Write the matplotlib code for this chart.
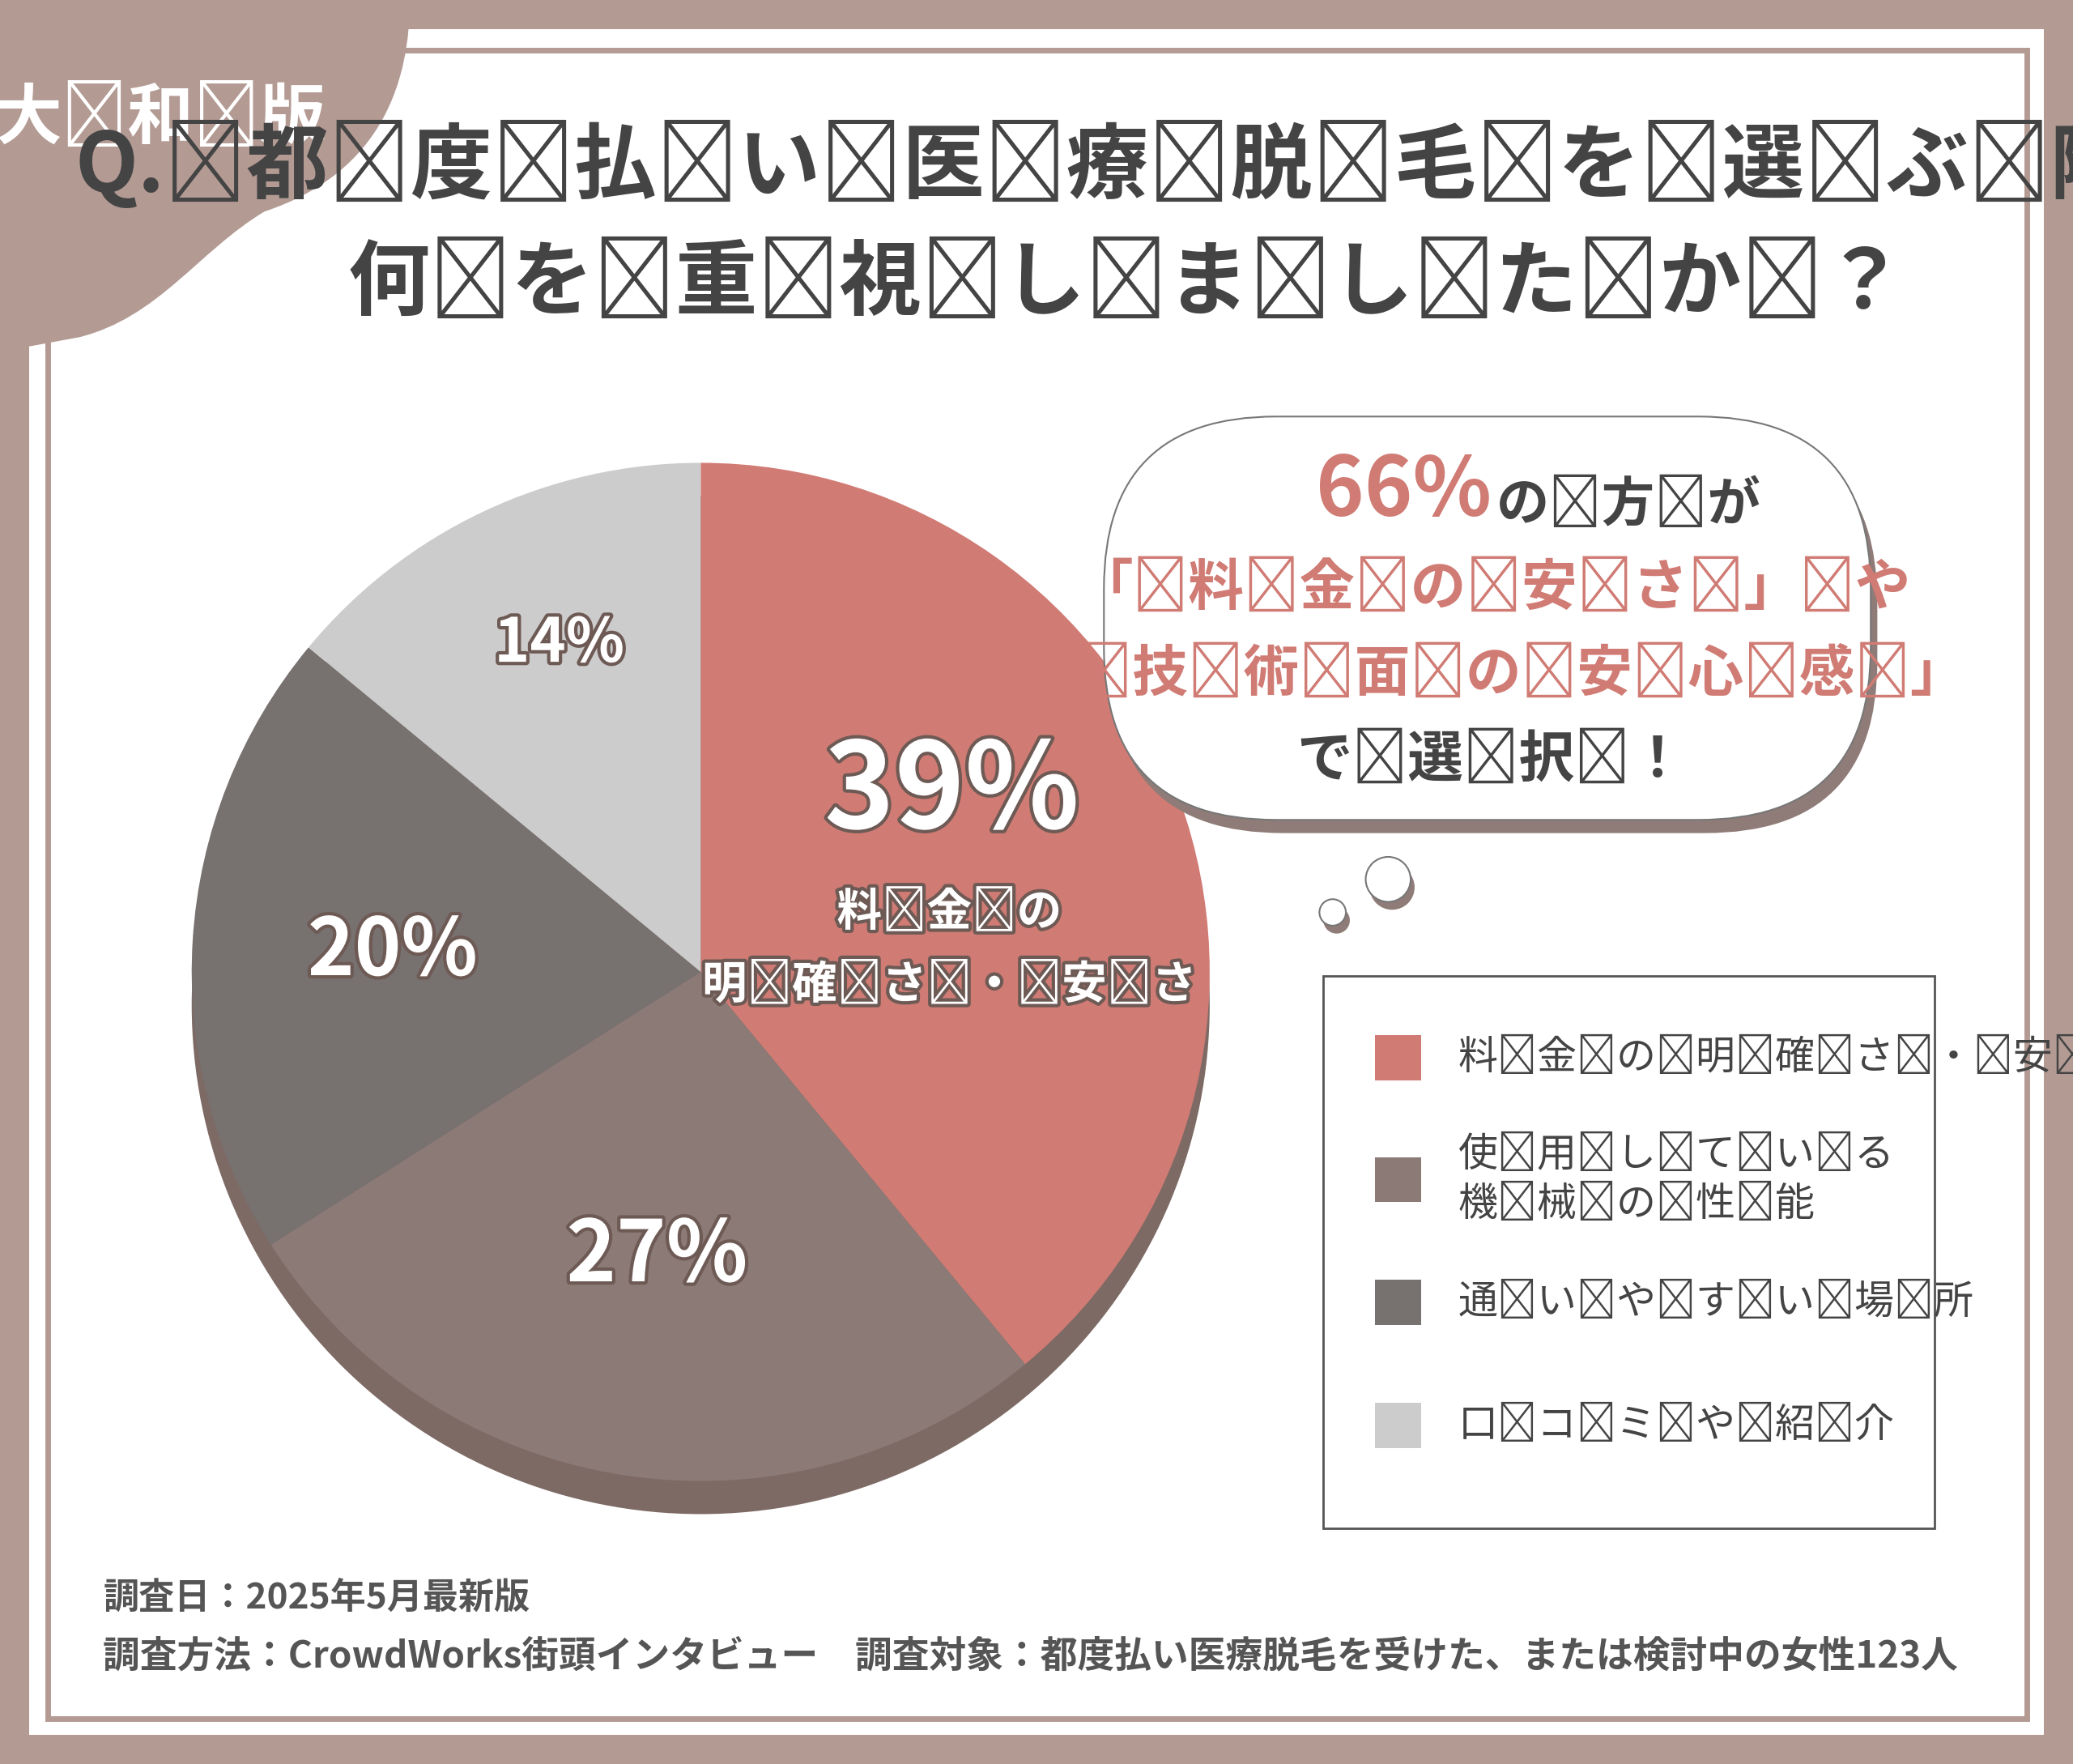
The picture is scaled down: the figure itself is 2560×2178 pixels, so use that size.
import matplotlib.pyplot as plt
import matplotlib.patheffects as pe
from matplotlib.patches import Rectangle, FancyBboxPatch, Circle, PathPatch
from matplotlib.path import Path

plt.rcParams["font.family"] = "Noto Sans CJK JP"

# data
categories = ["料金の明確さ・安さ", "使用している\n機械の性能", "通いやすい場所", "口コミや紹介"]
values = [39, 27, 20, 14]
colors = ["#d07b74", "#8c7a77", "#777170", "#cccccc"]
pct_pos = [(720, 600), (497, 950), (297, 720), (423, 487)]
pct_size = [90, 64, 60, 46]

W, H = 1568, 1334
S = 1.176  # ref px -> pt
SP = "\u2009"


def spaced(s):
    return "\n".join(SP.join(line) for line in s.split("\n"))


fig = plt.figure(figsize=(25.6, 21.78), dpi=100)
fig.patch.set_facecolor("#b39b94")

bg = fig.add_axes([0, 0, 1, 1])
bg.set_xlim(0, W); bg.set_ylim(H, 0); bg.axis("off")
bg.add_patch(Rectangle((22, 22), 1524, 1290, fc="white", ec="none"))
bg.add_patch(Rectangle((36, 38), 1497, 1262, fc="none", ec="#b39b94", lw=5))

# corner tab
verts = [(0, 0), (310, 0), (310, 60), (290, 130), (200, 160), (150, 190),
         (120, 240), (60, 255), (22, 262), (0, 262), (0, 0)]
codes = [Path.MOVETO, Path.LINETO, Path.CURVE4, Path.CURVE4, Path.CURVE4,
         Path.CURVE4, Path.CURVE4, Path.CURVE4, Path.LINETO, Path.LINETO, Path.CLOSEPOLY]
bg.add_patch(PathPatch(Path(verts, codes), fc="#b39b94", ec="none"))
bg.text(122, 90, spaced("大和版"), color="white", fontsize=50 * S, fontweight="bold",
        ha="center", va="center")

# title
bg.text(897, 125, "Q." + SP + spaced("都度払い医療脱毛を選ぶ際、"), color="#444444",
        fontsize=62 * S, fontweight="bold", ha="center", va="center")
bg.text(852, 215, spaced("何を重視しましたか？"), color="#444444", fontsize=62 * S,
        fontweight="bold", ha="center", va="center")

# pie
cx, cy, r = 530, 735, 385
pa = fig.add_axes([(cx - r) / W, 1 - (cy + r) / H, 2 * r / W, 2 * r / H])
pa.pie([1], radius=1, center=(0, -0.065), colors=["#7d6a65"], frame=True)
pa.pie(values, colors=colors, startangle=90, counterclock=False, radius=1, frame=True)
pa.set_xlim(-1.0, 1.0); pa.set_ylim(-1.0, 1.0); pa.axis("off")

top = fig.add_axes([0, 0, 1, 1])
top.set_xlim(0, W); top.set_ylim(H, 0); top.axis("off"); top.patch.set_alpha(0)

shadow = [pe.withStroke(linewidth=6, foreground="#6e5a55")]
for v, (x, y), fs in zip(values, pct_pos, pct_size):
    top.text(x, y, f"{v}%", color="white", fontsize=fs * S,
             fontweight="bold", ha="center", va="center", path_effects=shadow)
top.text(718, 690, spaced("料金の"), color="white", fontsize=34 * S, fontweight="bold",
         ha="center", va="center", path_effects=shadow)
top.text(718, 745, spaced("明確さ・安さ"), color="white", fontsize=34 * S, fontweight="bold",
         ha="center", va="center", path_effects=shadow)

# bubble
top.add_patch(FancyBboxPatch((850, 335), 560, 285, boxstyle="round,pad=10,rounding_size=130",
                             fc="#8f7c78", ec="none"))
top.add_patch(FancyBboxPatch((845, 325), 560, 285, boxstyle="round,pad=10,rounding_size=130",
                             fc="white", ec="#777777", lw=1.5))
for (x, y, rr) in [(1050, 665, 17), (1008, 690, 10)]:
    top.add_patch(Circle((x + 3, y + 6), rr, fc="#8f7c78", ec="none"))
    top.add_patch(Circle((x, y), rr, fc="white", ec="#777777", lw=1.5))
top.text(1128, 372, "66%", color="#d07b74", fontsize=62 * S, fontweight="bold",
         ha="right", va="center")
top.text(1132, 382, spaced("の方が"), color="#444444", fontsize=40 * S, fontweight="bold",
         ha="left", va="center")
top.text(1130, 445, spaced("「料金の安さ」や"), color="#d07b74", fontsize=42 * S,
         fontweight="bold", ha="center", va="center")
top.text(1130, 510, spaced("「技術面の安心感」"), color="#d07b74", fontsize=42 * S,
         fontweight="bold", ha="center", va="center")
top.text(1128, 575, spaced("で選択！"), color="#444444", fontsize=42 * S, fontweight="bold",
         ha="center", va="center")

# legend
top.add_patch(Rectangle((1001, 738), 462, 418, fc="white", ec="#555555", lw=2))
leg_y = [800, 892, 985, 1078]
for lab, c, y in zip(categories, colors, leg_y):
    top.add_patch(Rectangle((1040, y - 17), 35, 34, fc=c, ec="none"))
    top.text(1103, y, spaced(lab), color="#444444", fontsize=30 * S, ha="left",
             va="center", linespacing=1.3)

# footer
top.text(78, 1208, "調査日：2025年5月最新版", color="#555555", fontsize=27 * S,
         fontweight="bold", ha="left", va="center")
top.text(78, 1253, "調査方法：CrowdWorks街頭インタビュー　調査対象：都度払い医療脱毛を受けた、または検討中の女性123人",
         color="#555555", fontsize=28 * S, fontweight="bold", ha="left", va="center")

fig.savefig("out.png", dpi=100, facecolor=fig.get_facecolor())
